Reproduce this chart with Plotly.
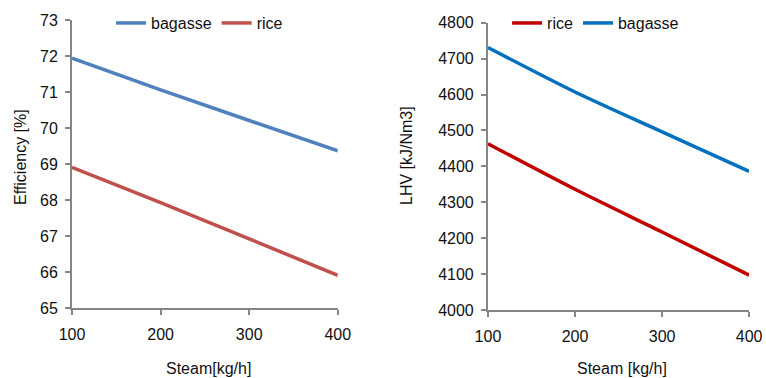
import plotly.graph_objects as go

steam_left = [100, 200, 300, 400]
eff_bagasse = [71.94, 71.06, 70.21, 69.37]
eff_rice = [68.91, 67.93, 66.92, 65.91]

steam_right = [100, 200, 300, 400]
lhv_rice = [4463, 4336, 4217, 4097]
lhv_bagasse = [4731, 4607, 4496, 4386]

FONT = "Liberation Sans, Arial, sans-serif"
GRAY = "#868686"
FS = 16

fig = go.Figure()
fig.add_trace(go.Scatter(x=steam_left, y=eff_bagasse, name="bagasse", mode="lines",
                         line=dict(color="#4F81BD", width=3.5), xaxis="x", yaxis="y", legend="legend"))
fig.add_trace(go.Scatter(x=steam_left, y=eff_rice, name="rice", mode="lines",
                         line=dict(color="#C0504D", width=3.5), xaxis="x", yaxis="y", legend="legend"))
fig.add_trace(go.Scatter(x=steam_right, y=lhv_rice, name="rice", mode="lines", line_shape="spline",
                         line=dict(color="#C00000", width=3.5, smoothing=0.8), xaxis="x2", yaxis="y2", legend="legend2"))
fig.add_trace(go.Scatter(x=steam_right, y=lhv_bagasse, name="bagasse", mode="lines", line_shape="spline",
                         line=dict(color="#0070C0", width=3.5, smoothing=0.8), xaxis="x2", yaxis="y2", legend="legend2"))

axis_common = dict(showgrid=False, zeroline=False, showline=True, linecolor=GRAY, linewidth=2,
                   ticks="outside", ticklen=5, tickcolor=GRAY, tickwidth=1.5, automargin=False,
                   tickfont=dict(family=FONT, size=FS, color="#111"))

fig.update_layout(
    width=766, height=378, margin=dict(l=0, r=0, t=0, b=0),
    paper_bgcolor="white", plot_bgcolor="white",
    font=dict(family=FONT, size=FS, color="#111"),
    xaxis=dict(domain=[0.094, 0.441], range=[100, 400], tickvals=[100, 200, 300, 400],
               anchor="y", ticklabelstandoff=6, **axis_common),
    yaxis=dict(domain=[0.185, 0.947], range=[65, 73], dtick=1, anchor="x", ticklabelstandoff=4, **axis_common),
    xaxis2=dict(domain=[0.637, 0.978], range=[100, 400], tickvals=[100, 200, 300, 400],
                anchor="y2", ticklabelstandoff=6, **axis_common),
    yaxis2=dict(domain=[0.180, 0.940], range=[4000, 4800], dtick=100, anchor="x2", ticklabelstandoff=4, **axis_common),
    legend=dict(orientation="h", x=0.145, y=0.984, xanchor="left", yanchor="top",
                bgcolor="rgba(0,0,0,0)", font=dict(family=FONT, size=FS, color="#111"),
                itemwidth=30, tracegroupgap=0),
    legend2=dict(orientation="h", x=0.662, y=0.984, xanchor="left", yanchor="top",
                 bgcolor="rgba(0,0,0,0)", font=dict(family=FONT, size=FS, color="#111"),
                 itemwidth=30, tracegroupgap=0),
)

titles = [("Steam[kg/h]", 208, 368, 0), ("Steam [kg/h]", 622, 368, 0),
          ("Efficiency [%]", 20, 157, -90), ("LHV [kJ/Nm3]", 406, 156, -90)]
for text, px, py, ang in titles:
    fig.add_annotation(text=text, x=px / 766, y=1 - py / 378, xref="paper", yref="paper",
                       showarrow=False, textangle=ang, xanchor="center", yanchor="middle",
                       font=dict(family=FONT, size=FS, color="#111"))

fig.write_html("out.html")
